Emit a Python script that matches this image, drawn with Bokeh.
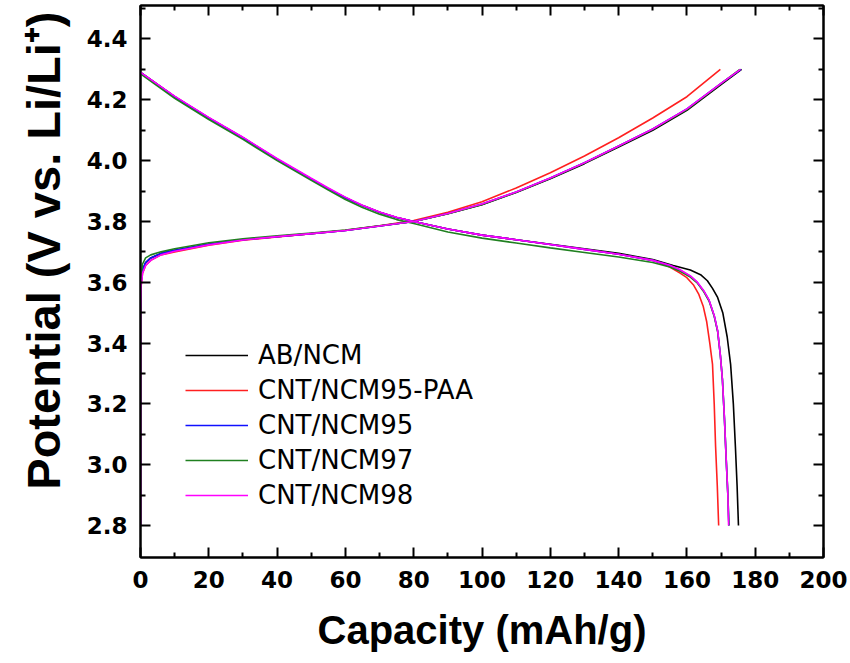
from bokeh.plotting import figure
from bokeh.models import Range1d, FixedTicker, LinearAxis, Legend, LegendItem, PrintfTickFormatter, Title
from bokeh.embed import file_html
from bokeh.resources import INLINE

# ---------------- data ----------------
series_names = ["AB/NCM", "CNT/NCM95-PAA", "CNT/NCM95", "CNT/NCM97", "CNT/NCM98"]
series_colors = ["#000000", "#ff2020", "#1010ff", "#208020", "#ff00ff"]

x_ticks = [0, 20, 40, 60, 80, 100, 120, 140, 160, 180, 200]
x_minor = [10, 30, 50, 70, 90, 110, 130, 150, 170, 190]
y_ticks = [2.8, 3.0, 3.2, 3.4, 3.6, 3.8, 4.0, 4.2, 4.4]
y_minor = [2.9, 3.1, 3.3, 3.5, 3.7, 3.9, 4.1, 4.3, 4.5]

# charge curves
ab_chg_cap = [0, 0, 0.2, 0.6, 1.5, 3, 6, 10, 20, 30, 40, 50, 60, 70, 80, 90, 100, 110, 120, 130, 140, 150, 160, 170, 176]
ab_chg_v = [2.80, 3.50, 3.60, 3.64, 3.665, 3.68, 3.695, 3.705, 3.725, 3.74, 3.75, 3.76, 3.77, 3.785, 3.80, 3.825, 3.855, 3.895, 3.94, 3.99, 4.045, 4.10, 4.165, 4.25, 4.30]

paa_chg_cap = [0, 0, 0.2, 0.6, 1.5, 3, 6, 10, 20, 30, 40, 50, 60, 70, 80, 90, 100, 110, 120, 130, 140, 150, 160, 169.8]
paa_chg_v = [2.80, 3.50, 3.59, 3.63, 3.655, 3.672, 3.69, 3.70, 3.722, 3.738, 3.749, 3.76, 3.771, 3.786, 3.803, 3.83, 3.865, 3.91, 3.96, 4.015, 4.075, 4.14, 4.21, 4.30]

c95_chg_cap = [0, 0, 0.2, 0.6, 1.5, 3, 6, 10, 20, 30, 40, 50, 60, 70, 80, 90, 100, 110, 120, 130, 140, 150, 160, 170, 175.8]
c95_chg_v = [2.80, 3.50, 3.60, 3.64, 3.665, 3.68, 3.695, 3.705, 3.725, 3.74, 3.75, 3.76, 3.77, 3.785, 3.80, 3.826, 3.857, 3.897, 3.943, 3.993, 4.048, 4.104, 4.17, 4.254, 4.30]

c97_chg_cap = [0, 0, 0.2, 0.6, 1.5, 3, 6, 10, 20, 30, 40, 50, 60, 70, 80, 90, 100, 110, 120, 130, 140, 150, 160, 170, 175.5]
c97_chg_v = [2.80, 3.52, 3.62, 3.66, 3.68, 3.69, 3.70, 3.71, 3.73, 3.743, 3.753, 3.762, 3.772, 3.786, 3.80, 3.825, 3.856, 3.896, 3.942, 3.992, 4.047, 4.103, 4.168, 4.253, 4.30]

c98_chg_cap = [0, 0, 0.2, 0.6, 1.5, 3, 6, 10, 20, 30, 40, 50, 60, 70, 80, 90, 100, 110, 120, 130, 140, 150, 160, 170, 175.7]
c98_chg_v = [2.80, 3.50, 3.59, 3.63, 3.655, 3.672, 3.69, 3.702, 3.723, 3.739, 3.75, 3.76, 3.77, 3.785, 3.80, 3.826, 3.857, 3.897, 3.943, 3.993, 4.048, 4.104, 4.17, 4.254, 4.30]

# discharge curves
ab_dis_cap = [0, 10, 20, 30, 40, 50, 55, 60, 65, 70, 75, 80, 90, 100, 110, 120, 130, 140, 150, 156, 161, 164, 166, 167.5, 169, 170.5, 171.8, 172.8, 173.6, 174.2, 174.7, 175.1]
ab_dis_v = [4.29, 4.21, 4.14, 4.075, 4.005, 3.94, 3.908, 3.878, 3.852, 3.83, 3.813, 3.80, 3.775, 3.755, 3.74, 3.725, 3.71, 3.695, 3.675, 3.655, 3.64, 3.625, 3.605, 3.58, 3.55, 3.50, 3.42, 3.33, 3.20, 3.06, 2.93, 2.80]

paa_dis_cap = [0, 10, 20, 30, 40, 50, 55, 60, 65, 70, 75, 80, 90, 100, 110, 120, 130, 140, 150, 155, 158, 160, 162, 163.5, 164.8, 165.8, 166.7, 167.5, 168.0, 168.4, 168.9, 169.3]
paa_dis_v = [4.29, 4.21, 4.14, 4.075, 4.005, 3.94, 3.908, 3.878, 3.852, 3.83, 3.813, 3.80, 3.775, 3.755, 3.74, 3.724, 3.708, 3.692, 3.672, 3.65, 3.63, 3.615, 3.59, 3.56, 3.52, 3.47, 3.40, 3.33, 3.20, 3.06, 2.93, 2.80]

c95_dis_cap = [0, 10, 20, 30, 40, 50, 55, 60, 65, 70, 75, 80, 90, 100, 110, 120, 130, 140, 150, 155, 158, 161, 163, 165, 166.5, 168, 169, 169.8, 170.4, 171, 171.5, 172, 172.3]
c95_dis_v = [4.29, 4.21, 4.14, 4.075, 4.005, 3.94, 3.908, 3.878, 3.852, 3.83, 3.813, 3.80, 3.775, 3.755, 3.74, 3.724, 3.708, 3.692, 3.672, 3.655, 3.64, 3.62, 3.60, 3.57, 3.54, 3.49, 3.44, 3.36, 3.28, 3.15, 3.02, 2.90, 2.80]

c97_dis_cap = [0, 10, 20, 30, 40, 50, 55, 60, 65, 70, 75, 80, 90, 100, 110, 120, 130, 140, 150, 155, 158, 161, 163, 165, 166.5, 168, 169, 169.8, 170.4, 171, 171.5, 172, 172.3]
c97_dis_v = [4.285, 4.205, 4.135, 4.07, 4.0, 3.935, 3.903, 3.872, 3.846, 3.824, 3.806, 3.793, 3.765, 3.745, 3.729, 3.713, 3.698, 3.683, 3.665, 3.65, 3.636, 3.617, 3.598, 3.568, 3.538, 3.488, 3.438, 3.36, 3.28, 3.15, 3.02, 2.90, 2.80]

c98_dis_cap = [0, 10, 20, 30, 40, 50, 55, 60, 65, 70, 75, 80, 90, 100, 110, 120, 130, 140, 150, 155, 158, 161, 163, 165, 166.5, 168, 169, 169.8, 170.4, 171, 171.5, 172, 172.2]
c98_dis_v = [4.29, 4.212, 4.142, 4.077, 4.007, 3.942, 3.91, 3.88, 3.853, 3.831, 3.814, 3.80, 3.775, 3.755, 3.74, 3.724, 3.708, 3.692, 3.672, 3.656, 3.641, 3.621, 3.601, 3.571, 3.541, 3.491, 3.441, 3.36, 3.28, 3.15, 3.02, 2.90, 2.80]

charge = [(ab_chg_cap, ab_chg_v), (paa_chg_cap, paa_chg_v), (c95_chg_cap, c95_chg_v), (c97_chg_cap, c97_chg_v), (c98_chg_cap, c98_chg_v)]
discharge = [(ab_dis_cap, ab_dis_v), (paa_dis_cap, paa_dis_v), (c95_dis_cap, c95_dis_v), (c97_dis_cap, c97_dis_v), (c98_dis_cap, c98_dis_v)]

# ---------------- figure ----------------
FONT = "Liberation Sans"
TICKFONT = "DejaVu Sans"

p = figure(frame_width=683, frame_height=552, output_backend="svg", toolbar_location=None,
           x_range=Range1d(0, 200), y_range=Range1d(2.695, 4.51),
           min_border_left=140, min_border_right=27, min_border_top=5, min_border_bottom=106,
           background_fill_color="white", border_fill_color="white")
p.grid.visible = False
p.outline_line_color = "black"
p.outline_line_width = 2

xt = FixedTicker(ticks=x_ticks, minor_ticks=x_minor)
yt = FixedTicker(ticks=y_ticks, minor_ticks=y_minor)
p.xaxis.ticker = xt
p.yaxis.ticker = yt
p.yaxis.formatter = PrintfTickFormatter(format="%.1f")
p.xaxis.axis_label = "Capacity (mAh/g)"

for ax in [p.xaxis[0], p.yaxis[0]]:
    ax.axis_line_width = 2
    ax.major_tick_line_width = 2
    ax.minor_tick_line_width = 2
    ax.major_tick_in = 10
    ax.major_tick_out = 0
    ax.minor_tick_in = 5
    ax.minor_tick_out = 0
    ax.major_label_text_font = TICKFONT
    ax.major_label_text_font_style = "bold"
    ax.major_label_text_font_size = "23px"
    ax.major_label_text_color = "black"
    ax.axis_label_text_font = FONT
    ax.axis_label_text_font_style = "bold"
    ax.axis_label_text_font_size = "40px"
    ax.axis_label_text_color = "black"
    ax.major_label_standoff = 13
    ax.axis_label_standoff = 17

# y-axis title placed as a left-side Title so it can sit higher like the reference
ytitle = Title(text="Potential (V vs. Li/Li\u207a)", align="right", offset=6, standoff=27,
               text_font=FONT, text_font_style="bold", text_font_size="47px", text_color="black")
p.add_layout(ytitle, "left")

# mirrored tick axes (top, right), no labels
for loc, tk in [("above", xt), ("right", yt)]:
    a = LinearAxis(ticker=tk, major_label_text_font_size="1px", major_label_text_color=None,
                   major_label_standoff=0,
                   axis_line_width=2, major_tick_line_width=2, minor_tick_line_width=2,
                   major_tick_in=10, major_tick_out=0, minor_tick_in=5, minor_tick_out=0,
                   axis_label=None)
    p.add_layout(a, loc)

items = []
for i, name in enumerate(series_names):
    c = series_colors[i]
    r1 = p.line(charge[i][0], charge[i][1], line_color=c, line_width=1.6)
    r2 = p.line(discharge[i][0], discharge[i][1], line_color=c, line_width=1.6)
    items.append(LegendItem(label=name, renderers=[r1]))

legend = Legend(items=items, location=(45, 47), border_line_color=None,
                background_fill_alpha=0, padding=0, margin=0, spacing=5,
                glyph_width=63, glyph_height=30, label_height=30, label_standoff=10,
                label_text_font=TICKFONT, label_text_font_size="26px", label_text_color="black")
p.add_layout(legend, "center")

open("out.html", "w").write(file_html(p, INLINE))
